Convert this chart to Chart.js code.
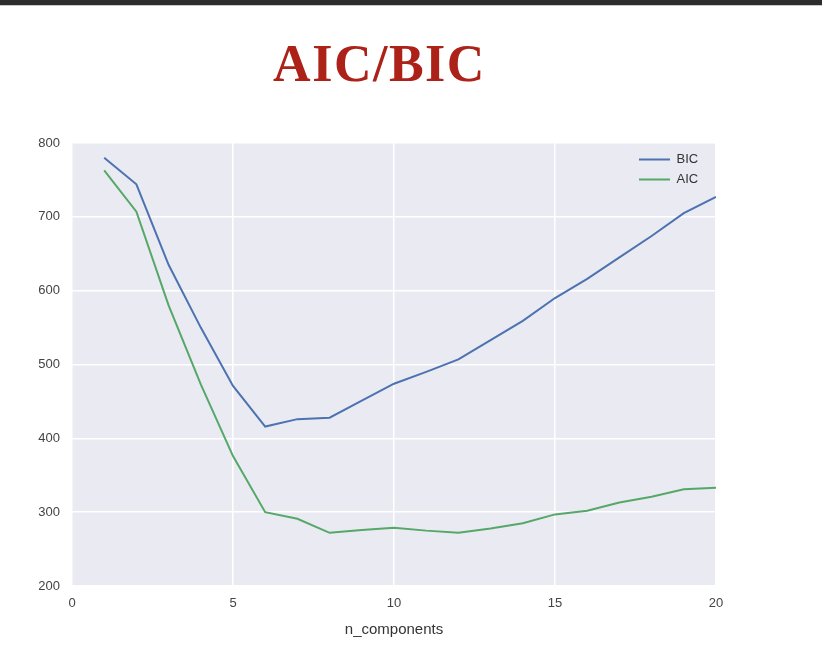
<!DOCTYPE html>
<html>
<head>
<meta charset="utf-8">
<script src="https://cdn.jsdelivr.net/npm/chart.js@4/dist/chart.umd.min.js"></script>
<style>
  html, body { margin: 0; padding: 0; background: #ffffff; width: 822px; height: 656px; overflow: hidden; }
  #topbar { position: absolute; left: 0; top: 0; width: 822px; height: 5px; background: #2d2d2d; border-bottom: 1px solid #c8c8c8; }
  #title { position: absolute; left: 0; width: 759px; top: 34px; text-align: center; font-family: "Liberation Serif", serif; font-weight: bold; font-size: 52px; letter-spacing: 1.5px; color: #ad2218; line-height: 60px; }
  #wrap { position: absolute; left: 0; top: 0; width: 822px; height: 656px; }
</style>
</head>
<body>
<div id="topbar"></div>
<div id="title">AIC/BIC</div>
<div id="wrap"><canvas id="c" width="822" height="656"></canvas></div>
<script>
const nComponents = [1,2,3,4,5,6,7,8,9,10,11,12,13,14,15,16,17,18,19,20];
const bicValues = [780,744,635,550,471,416,426,428,451,474,490,507,533,559,590,616,645,674,705,727];
const aicValues = [763,707,580,473,376,300,291,272,276,279,275,272,278,285,297,302,313,321,331,333];
const xTicks = [0,5,10,15,20];
const yTicks = [200,300,400,500,600,700,800];
const seriesNames = ['BIC','AIC'];

const bgPlugin = {
  id: 'bg',
  beforeDraw(chart) {
    const {ctx, chartArea: a} = chart;
    ctx.save();
    ctx.fillStyle = '#eaeaf2';
    ctx.fillRect(a.left, a.top, a.right - a.left, a.bottom - a.top);
    ctx.restore();
  }
};

// place the built-in legend in the top-right corner of the plot area
const legendPlace = {
  id: 'legendPlace',
  afterLayout(chart) {
    const lg = chart.legend;
    if (!lg) return;
    const a = chart.chartArea;
    const w = lg.width, h = lg.height;
    lg.left = 632;
    lg.right = lg.left + w;
    lg.top = a.top + 3;
    lg.bottom = lg.top + h;
  }
};

const toPts = (vals) => nComponents.map((x, i) => ({x: x, y: vals[i]}));

new Chart(document.getElementById('c'), {
  type: 'line',
  data: {
    datasets: [
      { label: seriesNames[0], data: toPts(bicValues), borderColor: '#4c72b0', backgroundColor: '#4c72b0', borderWidth: 2, pointRadius: 0, tension: 0, fill: false },
      { label: seriesNames[1], data: toPts(aicValues), borderColor: '#55a868', backgroundColor: '#55a868', borderWidth: 2, pointRadius: 0, tension: 0, fill: false }
    ]
  },
  options: {
    responsive: false,
    animation: false,
    layout: { padding: { left: 0, top: 143, right: 106, bottom: 17 } },
    plugins: {
      title: { display: false },
      tooltip: { enabled: false },
      legend: {
        display: true,
        position: 'chartArea',
        align: 'start',
        labels: {
          usePointStyle: true,
          pointStyle: 'line',
          pointStyleWidth: 31,
          boxHeight: 13,
          padding: 7,
          color: '#333333',
          font: { family: 'Liberation Sans, Arial, sans-serif', size: 13 }
        }
      }
    },
    scales: {
      x: {
        type: 'linear',
        min: 0, max: 20,
        afterBuildTicks(scale) { scale.ticks = xTicks.map(v => ({value: v})); },
        afterFit(scale) { scale.height = 53; },
        grid: { color: '#ffffff', lineWidth: 1.5, drawTicks: false },
        border: { display: false },
        ticks: { padding: 10, color: '#444444', font: { family: 'Liberation Sans, Arial, sans-serif', size: 13 } },
        title: { display: true, text: 'n_components', color: '#333333', padding: { top: 4, bottom: 0 }, font: { family: 'Liberation Sans, Arial, sans-serif', size: 15 } }
      },
      y: {
        type: 'linear',
        min: 200, max: 800,
        afterBuildTicks(scale) { scale.ticks = yTicks.map(v => ({value: v})); },
        afterFit(scale) { scale.width = 72; },
        grid: { color: '#ffffff', lineWidth: 1.5, drawTicks: false },
        border: { display: false },
        ticks: { padding: 12, color: '#444444', font: { family: 'Liberation Sans, Arial, sans-serif', size: 13 } }
      }
    }
  },
  plugins: [bgPlugin, legendPlace]
});
</script>
</body>
</html>
